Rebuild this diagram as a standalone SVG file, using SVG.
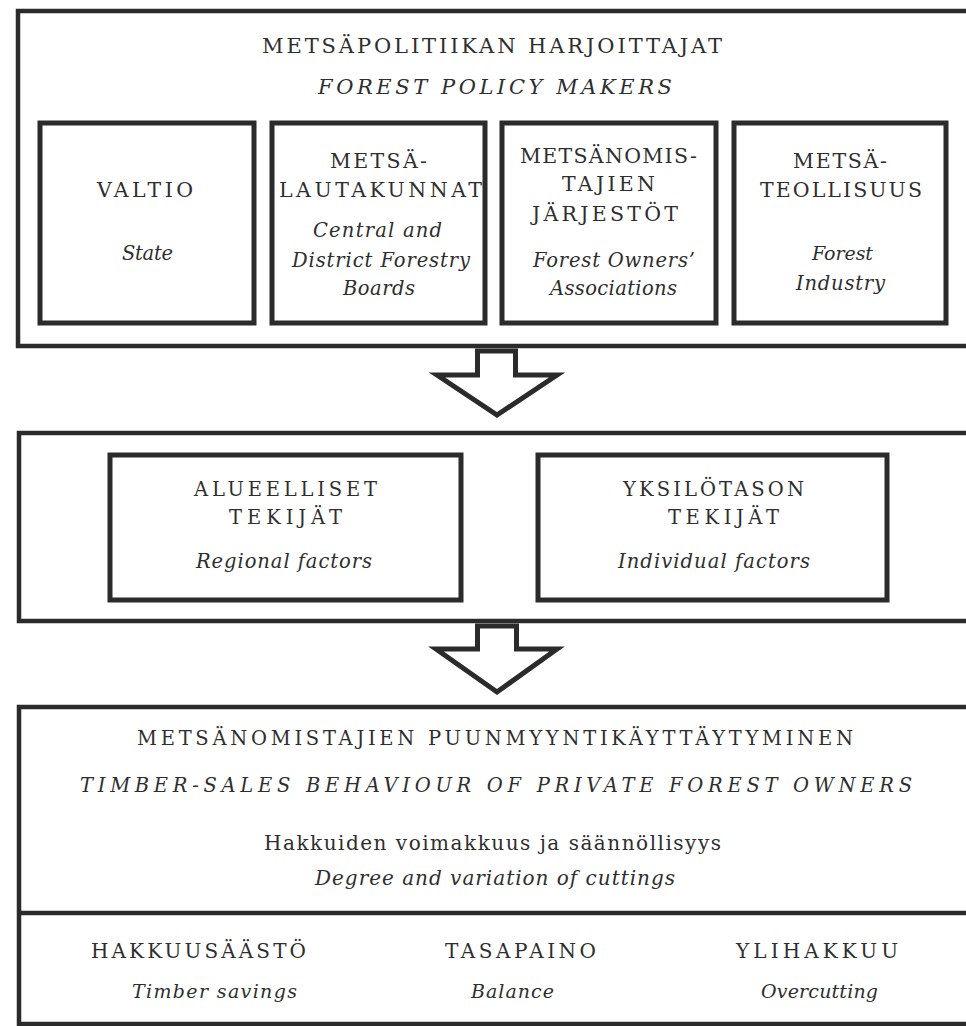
<svg xmlns="http://www.w3.org/2000/svg" width="966" height="1026" viewBox="0 0 966 1026">
<style>
.box{fill:none;stroke:#2b2b2b;stroke-width:5;}
.thin{fill:none;stroke:#2b2b2b;stroke-width:4.5;}
.arrow{fill:#fff;stroke:#2b2b2b;stroke-width:5;stroke-linejoin:miter;}
text{font-family:"DejaVu Serif","Liberation Serif",serif;fill:#2e2e2e;text-anchor:middle;font-size:19.5px;}
.big{font-size:21px;}
.top{font-size:20.5px;}
.topi{font-size:19.5px;}
.low{font-size:20px;}
.lowi{font-size:19px;}
.caps{font-size:20px;}
.it{font-style:italic;}
</style>
<rect width="966" height="1026" fill="#ffffff"/>

<g id="policy-makers">
<rect class="thin" x="18" y="11" width="980" height="335"/>
<text class="big" x="492" y="53" textLength="460" lengthAdjust="spacing">METSÄPOLITIIKAN HARJOITTAJAT</text>
<text class="big it" x="495" y="94" textLength="354" lengthAdjust="spacing">FOREST POLICY MAKERS</text>
</g>

<g id="valtio">
<rect class="box" x="40" y="123" width="214" height="200"/>
<text class="top" x="145" y="197" textLength="96" lengthAdjust="spacing">VALTIO</text>
<text class="topi it" x="147.5" y="260" textLength="51" lengthAdjust="spacing">State</text>
</g>

<g id="metsalautakunnat">
<rect class="box" x="272" y="123" width="213" height="200"/>
<text class="top" x="378.5" y="168" textLength="97" lengthAdjust="spacing">METSÄ-</text>
<text class="top" x="380.5" y="197" textLength="203" lengthAdjust="spacing">LAUTAKUNNAT</text>
<text class="topi it" x="377.5" y="237" textLength="129" lengthAdjust="spacing">Central and</text>
<text class="topi it" x="381" y="267" textLength="178" lengthAdjust="spacing">District Forestry</text>
<text class="topi it" x="379" y="295" textLength="72" lengthAdjust="spacing">Boards</text>
</g>

<g id="metsanomistajien-jarjestot">
<rect class="box" x="502" y="123" width="214" height="200"/>
<text class="top" x="608.5" y="163" textLength="177" lengthAdjust="spacing">METSÄNOMIS-</text>
<text class="top" x="608.5" y="191" textLength="93" lengthAdjust="spacing">TAJIEN</text>
<text class="top" x="605" y="221" textLength="146" lengthAdjust="spacing">JÄRJESTÖT</text>
<text class="topi it" x="614" y="267" textLength="162" lengthAdjust="spacing">Forest Owners’</text>
<text class="topi it" x="613.5" y="295" textLength="127" lengthAdjust="spacing">Associations</text>
</g>

<g id="metsateollisuus">
<rect class="box" x="734" y="123" width="212" height="200"/>
<text class="top" x="840" y="168" textLength="94" lengthAdjust="spacing">METSÄ-</text>
<text class="top" x="841" y="197" textLength="162" lengthAdjust="spacing">TEOLLISUUS</text>
<text class="lowi it" x="842.5" y="260" textLength="61" lengthAdjust="spacing">Forest</text>
<text class="topi it" x="840.5" y="290" textLength="89" lengthAdjust="spacing">Industry</text>
</g>

<g id="connectors">
<polygon class="arrow" points="477.5,351 515.5,351 515.5,375 557,375 497,415 437,375 477.5,375"/>
<polygon class="arrow" points="477.5,626 516.5,626 516.5,649 557,649 497,692 436,649 477.5,649"/>
</g>

<g id="factors">
<rect class="thin" x="19" y="433" width="980" height="188"/>
</g>

<g id="regional">
<rect class="box" x="110" y="455" width="351" height="145"/>
<text x="285.5" y="496" textLength="183" lengthAdjust="spacing">ALUEELLISET</text>
<text x="285.5" y="524" textLength="113" lengthAdjust="spacing">TEKIJÄT</text>
<text class="topi it" x="284" y="568" textLength="176" lengthAdjust="spacing">Regional factors</text>
</g>

<g id="individual">
<rect class="box" x="538" y="455" width="349" height="145"/>
<text x="713.5" y="496" textLength="181" lengthAdjust="spacing">YKSILÖTASON</text>
<text x="723.5" y="524" textLength="111" lengthAdjust="spacing">TEKIJÄT</text>
<text class="topi it" x="714" y="568" textLength="192" lengthAdjust="spacing">Individual factors</text>
</g>

<g id="behaviour">
<rect class="thin" x="19" y="707" width="980" height="317"/>
<line class="thin" x1="19" y1="913" x2="990" y2="913"/>
<text x="495" y="745" textLength="716" lengthAdjust="spacing">METSÄNOMISTAJIEN PUUNMYYNTIKÄYTTÄYTYMINEN</text>
<text class="it" x="496" y="792" textLength="832" lengthAdjust="spacing">TIMBER-SALES BEHAVIOUR OF PRIVATE FOREST OWNERS</text>
<text class="low" x="492.5" y="850" textLength="457" lengthAdjust="spacing">Hakkuiden voimakkuus ja säännöllisyys</text>
<text class="low it" x="495" y="885" textLength="360" lengthAdjust="spacing">Degree and variation of cuttings</text>
</g>

<g id="hakkuusaasto">
<text class="caps" x="198.5" y="958" textLength="215" lengthAdjust="spacing">HAKKUUSÄÄSTÖ</text>
<text class="lowi it" x="214.5" y="998" textLength="165" lengthAdjust="spacing">Timber savings</text>
</g>
<g id="tasapaino">
<text class="caps" x="520.5" y="958" textLength="151" lengthAdjust="spacing">TASAPAINO</text>
<text class="lowi it" x="512.5" y="998" textLength="83" lengthAdjust="spacing">Balance</text>
</g>
<g id="ylihakkuu">
<text class="caps" x="817" y="958" textLength="162" lengthAdjust="spacing">YLIHAKKUU</text>
<text class="lowi it" x="819.5" y="998" textLength="117" lengthAdjust="spacing">Overcutting</text>
</g>
</svg>
